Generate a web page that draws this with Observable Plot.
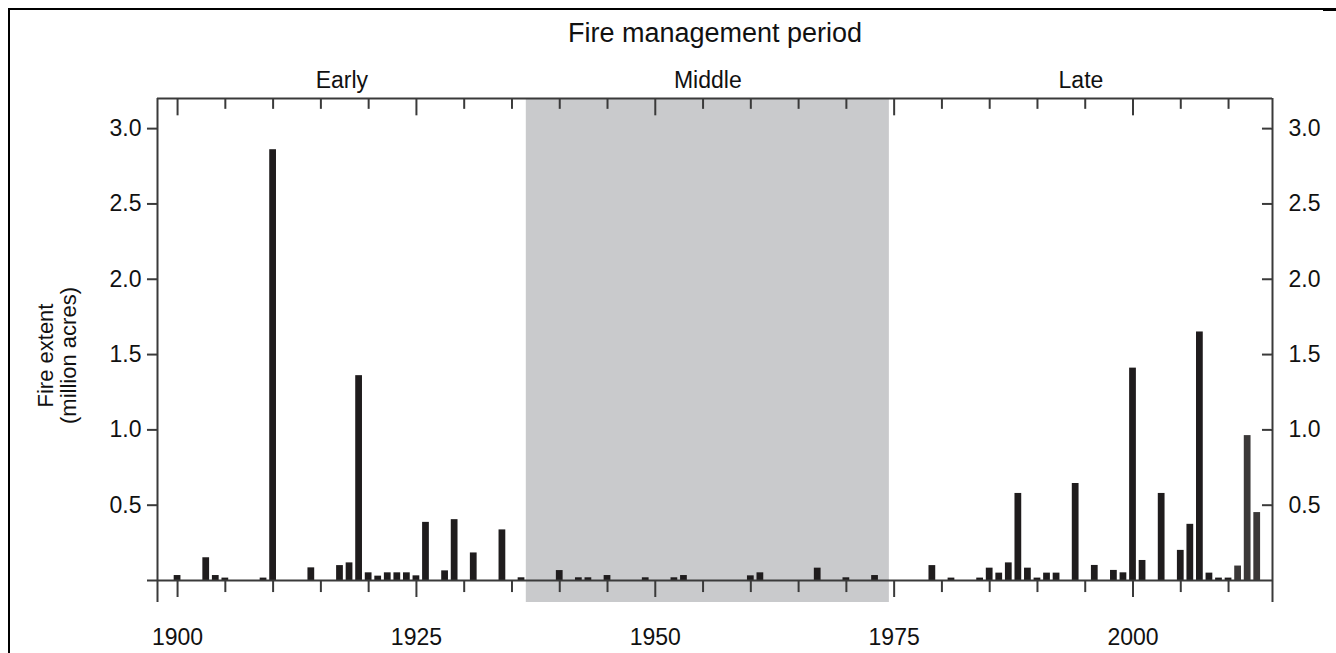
<!DOCTYPE html>
<html><head><meta charset="utf-8">
<script src="https://cdn.jsdelivr.net/npm/d3@7"></script>
<script src="https://cdn.jsdelivr.net/npm/@observablehq/plot@0.6"></script>
<style>
html,body{margin:0;padding:0;background:#fff;}
#page{position:relative;width:1336px;height:653px;overflow:hidden;background:#fff;}
#border{position:absolute;left:8px;top:8px;width:1315px;height:660px;border-left:2px solid #000;border-top:2px solid #000;}
#corner{position:absolute;left:1323px;top:8px;width:13px;height:3px;background:#000;}
#chart{position:absolute;left:0;top:0;}
</style></head><body>
<div id="page"><div id="border"></div><div id="corner"></div><div id="chart"></div></div>
<script>
// Fire extent (million acres) by year
const years = [1900,1903,1904,1905,1909,1910,1914,1917,1918,1919,1920,1921,1922,1923,1924,1925,1926,1928,1929,1931,1934,1936,
  1940,1942,1943,1945,1949,1952,1953,1960,1961,1967,1970,1973,
  1979,1981,1984,1985,1986,1987,1988,1989,1990,1991,1992,1994,1996,1998,1999,2000,2001,2003,2005,2006,2007,2008,2009,2010,2011,2012,2013];
const acres = [0.033,0.151,0.033,0.016,0.016,2.86,0.084,0.099,0.117,1.36,0.051,0.029,0.051,0.051,0.051,0.031,0.386,0.064,0.404,0.183,0.336,0.018,
  0.066,0.018,0.018,0.033,0.018,0.018,0.033,0.031,0.051,0.082,0.018,0.033,
  0.099,0.016,0.016,0.082,0.049,0.117,0.578,0.082,0.016,0.049,0.049,0.644,0.100,0.067,0.051,1.41,0.133,0.578,0.200,0.373,1.65,0.049,0.016,0.016,0.096,0.962,0.451];
const periodNames = ["Early", "Middle", "Late"];
const periodStart = [1897.9, 1936.5, 1974.5];
const periodEnd = [1936.5, 1974.5, 2014.6];
const yTicks = [0.5, 1.0, 1.5, 2.0, 2.5, 3.0];
const xTicks = [1900,1905,1910,1915,1920,1925,1930,1935,1940,1945,1950,1955,1960,1965,1970,1975,1980,1985,1990,1995,2000,2005,2010];
const xLabels = [1900, 1925, 1950, 1975, 2000];
const titleText = "Fire management period";
const yTitle = ["Fire extent", "(million acres)"];

const data = years.map((year, i) => ({year, value: acres[i]}));
const periods = periodNames.map((name, i) => ({name, start: periodStart[i], end: periodEnd[i]}));
const xDomain = [periodStart[0], periodEnd[2]];
const yDomain = [-0.146, 3.2];
const font = "'Liberation Sans', Arial, sans-serif";
const axisColor = "#3a3a3a";
const tickLen = 1.05; // y-axis tick length in years (~10px)
const isMajor = d => xLabels.includes(d);

const chart = Plot.plot({
  width: 1336, height: 653,
  marginTop: 98, marginBottom: 51, marginLeft: 157, marginRight: 64,
  x: {domain: xDomain, axis: null},
  y: {domain: yDomain, axis: null},
  style: {fontFamily: font, background: "transparent", color: "#111"},
  marks: [
    Plot.rect(periods.filter(p => p.name === "Middle"), {x1: "start", x2: "end", fill: "#c9cacc"}),
    Plot.rectY(data, {x1: d => d.year - 0.5, x2: d => d.year + 0.5, y: "value", insetLeft: 1.4, insetRight: 1.4,
      fill: d => d.year >= 2011 ? "#3b3838" : "#1f1c1d"}),
    Plot.ruleX([xDomain[0], xDomain[1]], {stroke: axisColor, strokeWidth: 2}),
    Plot.ruleY([yDomain[1]], {stroke: axisColor, strokeWidth: 2}),
    Plot.ruleY([0], {stroke: axisColor, strokeWidth: 2, insetLeft: -10}),
    Plot.ruleX(xTicks, {x: d => d, y1: 0, y2: d => isMajor(d) ? -0.113 : -0.08, stroke: axisColor, strokeWidth: 2}),
    Plot.ruleX(xTicks, {x: d => d, y1: yDomain[1], y2: d => yDomain[1] - (isMajor(d) ? 0.115 : 0.072), stroke: axisColor, strokeWidth: 2}),
    Plot.ruleY(yTicks, {y: d => d, x1: xDomain[0] - tickLen, x2: xDomain[0], stroke: axisColor, strokeWidth: 2}),
    Plot.ruleY(yTicks, {y: d => d, x1: xDomain[1] - tickLen, x2: xDomain[1], stroke: axisColor, strokeWidth: 2}),
    Plot.text(yTicks, {y: d => d, text: d => d.toFixed(1), frameAnchor: "left", dx: -16, textAnchor: "end", fontSize: 23, fill: "#111"}),
    Plot.text(yTicks, {y: d => d, text: d => d.toFixed(1), frameAnchor: "right", dx: 16, textAnchor: "start", fontSize: 23, fill: "#111"}),
    Plot.text(xLabels, {x: d => d, text: d => String(d), frameAnchor: "bottom", lineAnchor: "middle", dy: 35, fontSize: 23, fill: "#111"}),
    Plot.text([titleText], {text: d => d, frameAnchor: "top", lineAnchor: "middle", dy: -65, fontSize: 27, fill: "#111"}),
    Plot.text(periods, {x: d => (d.start + d.end) / 2, text: "name", frameAnchor: "top", lineAnchor: "middle", dy: -18, fontSize: 23, fill: "#111"}),
    Plot.text([yTitle[0]], {text: d => d, frameAnchor: "left", textAnchor: "middle", dx: -112, dy: 5, rotate: -90, fontSize: 22, fill: "#111"}),
    Plot.text([yTitle[1]], {text: d => d, frameAnchor: "left", textAnchor: "middle", dx: -89, dy: 5, rotate: -90, fontSize: 22, fill: "#111"})
  ]
});
document.getElementById("chart").appendChild(chart);
</script>
</body></html>
